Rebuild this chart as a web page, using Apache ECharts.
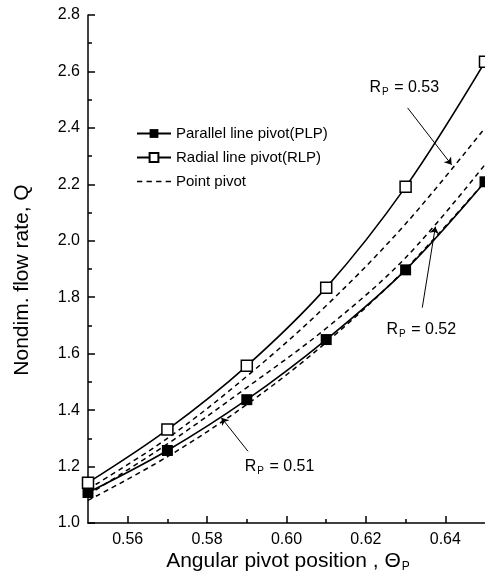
<!DOCTYPE html>
<html>
<head>
<meta charset="utf-8">
<script src="https://cdn.jsdelivr.net/npm/echarts@6/dist/echarts.min.js"></script>
<style>
  html, body { margin: 0; padding: 0; background: #fff; }
  #chart { width: 485px; height: 575px; }
</style>
</head>
<body>
<div id="chart"></div>
<script>
// pivot positions where the curves were computed
var thetaP = [0.55, 0.57, 0.59, 0.61, 0.63, 0.65]
// parallel / radial line pivot
var plp = [1.108, 1.257, 1.437, 1.650, 1.897, 2.209]
var rlp = [1.143, 1.331, 1.557, 1.834, 2.191, 2.634]
// point pivot, three pivot radii
var pointR51 = [1.080, 1.235, 1.420, 1.640, 1.900, 2.210]
var pointR52 = [1.100, 1.280, 1.480, 1.690, 1.940, 2.270]
var pointR53 = [1.120, 1.300, 1.520, 1.770, 2.060, 2.400]
var xMajor = [0.56, 0.58, 0.60, 0.62, 0.64]
var xMinor = [0.57, 0.59, 0.61, 0.63]
var rpLabels = ['0.53', '0.52', '0.51']

var font = 'Liberation Sans, Arial, sans-serif'
// dashed stroke used as the legend icon of the point pivot curves
var dashIcon = 'path://M0,0h5v1.5h-5z M9,0h5v1.5h-5z M18,0h5v1.5h-5z M27,0h5v1.5h-5z'

function pairs (ys) {
  return thetaP.map(function (x, i) { return [x, ys[i]] })
}

function pointPivot (ys) {
  return {
    name: 'Point pivot',
    type: 'line',
    data: pairs(ys),
    smooth: 0.35,
    symbol: 'none',
    itemStyle: { color: '#000' },
    lineStyle: { color: '#000', width: 1.5, type: [5, 4] },
    z: 3
  }
}

var chart = echarts.init(document.getElementById('chart'))

chart.setOption({
  animation: false,
  backgroundColor: '#fff',
  grid: { left: 88, right: 0, top: 15, bottom: 52 },
  legend: {
    orient: 'vertical',
    left: 131,
    top: 121,
    itemWidth: 34,
    itemHeight: 11,
    itemGap: 9,
    textStyle: { fontFamily: font, fontSize: 15, color: '#000' },
    data: [
      'Parallel line pivot(PLP)',
      'Radial line pivot(RLP)',
      { name: 'Point pivot', icon: dashIcon, itemStyle: { color: '#000' } }
    ]
  },
  xAxis: [
    {
      type: 'value',
      min: 0.55,
      max: 0.65,
      position: 'bottom',
      axisLine: { lineStyle: { color: '#000', width: 1.5 } },
      axisTick: { inside: true, length: 7, customValues: xMajor, lineStyle: { color: '#000', width: 1.5 } },
      axisLabel: {
        customValues: xMajor,
        margin: 9,
        fontFamily: font,
        fontSize: 16,
        color: '#000',
        formatter: function (v) { return v.toFixed(2) }
      },
      splitLine: { show: false }
    },
    {
      type: 'value',
      min: 0.55,
      max: 0.65,
      position: 'bottom',
      offset: 0,
      axisLine: { show: false },
      axisTick: { inside: true, length: 4, customValues: xMinor, lineStyle: { color: '#000', width: 1.5 } },
      axisLabel: { show: false },
      splitLine: { show: false }
    }
  ],
  yAxis: {
    type: 'value',
    min: 1.0,
    max: 2.8,
    interval: 0.2,
    axisLine: { show: true, lineStyle: { color: '#000', width: 1.5 } },
    axisTick: { show: true, inside: true, length: 7, lineStyle: { color: '#000', width: 1.5 } },
    minorTick: { show: true, splitNumber: 2, length: 4, lineStyle: { color: '#000', width: 1.5 } },
    axisLabel: {
      margin: 8,
      fontFamily: font,
      fontSize: 16,
      color: '#000',
      formatter: function (v) { return v.toFixed(1) }
    },
    splitLine: { show: false }
  },
  series: [
    {
      name: 'Parallel line pivot(PLP)',
      type: 'line',
      data: pairs(plp),
      smooth: 0.35,
      symbol: 'rect',
      symbolSize: 11,
      itemStyle: { color: '#000' },
      lineStyle: { color: '#000', width: 1.6 },
      z: 4,
      markLine: {
        silent: true,
        symbol: ['none', 'arrow'],
        symbolSize: 7,
        label: { show: false },
        lineStyle: { color: '#000', width: 1, type: 'solid' },
        data: [
          [{ coord: [0.6305, 2.471] }, { coord: [0.6416, 2.269] }],
          [{ coord: [0.6342, 1.763] }, { coord: [0.6375, 2.050] }],
          [{ coord: [0.5903, 1.254] }, { coord: [0.5836, 1.373] }]
        ]
      }
    },
    {
      name: 'Radial line pivot(RLP)',
      type: 'line',
      data: pairs(rlp),
      smooth: 0.35,
      symbol: 'rect',
      symbolSize: 11,
      itemStyle: { color: '#fff', borderColor: '#000', borderWidth: 1.5 },
      lineStyle: { color: '#000', width: 1.6 },
      z: 4
    },
    pointPivot(pointR51),
    pointPivot(pointR52),
    pointPivot(pointR53)
  ]
})

// annotation text, anchored in data space
var labelAt = [[0.6209, 2.542], [0.6252, 1.685], [0.5895, 1.200]]
var graphics = labelAt.map(function (c, i) {
  var p = chart.convertToPixel({ gridIndex: 0 }, c)
  return {
    type: 'text',
    x: p[0],
    y: p[1],
    style: {
      text: '{r|R}{s|P}{r| = ' + rpLabels[i] + '}',
      textAlign: 'left',
      textVerticalAlign: 'middle',
      rich: {
        r: { fontFamily: font, fontSize: 16, fill: '#000' },
        s: { fontFamily: font, fontSize: 10, fill: '#000', padding: [9, 1, 0, 1] }
      }
    }
  }
})

graphics.push({
  type: 'text',
  x: 288,
  y: 561,
  style: {
    text: '{t|Angular pivot position , Θ}{s|P}',
    textAlign: 'center',
    textVerticalAlign: 'middle',
    rich: {
      t: { fontFamily: font, fontSize: 21, fill: '#000' },
      s: { fontFamily: font, fontSize: 12, fill: '#000', padding: [12, 0, 0, 1] }
    }
  }
})
graphics.push({
  type: 'text',
  x: 22,
  y: 280,
  rotation: Math.PI / 2,
  style: {
    text: 'Nondim. flow rate, Q',
    fontFamily: font,
    fontSize: 21,
    fill: '#000',
    textAlign: 'center',
    textVerticalAlign: 'middle'
  }
})

chart.setOption({ graphic: graphics })
</script>
</body>
</html>
